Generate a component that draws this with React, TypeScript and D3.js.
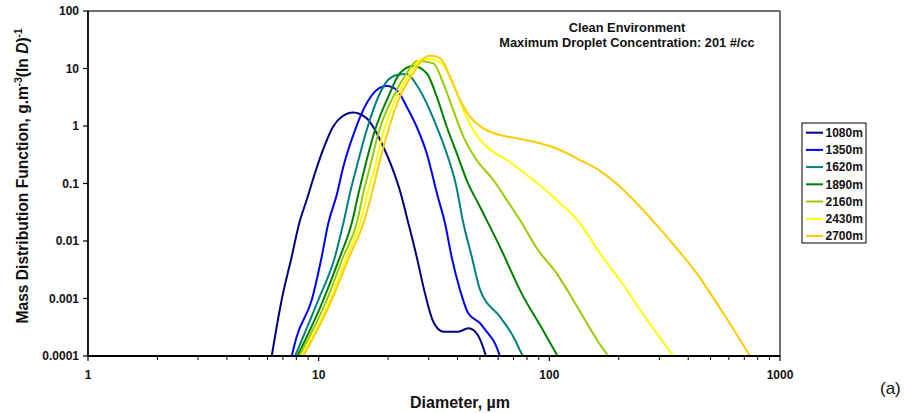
import React from "react";
import * as d3 from "d3";

// tick labels
const yTicks = [0.0001, 0.001, 0.01, 0.1, 1, 10, 100];
const yTickLabels = ["0.0001", "0.001", "0.01", "0.1", "1", "10", "100"];
const xTicks = [1, 10, 100, 1000];
const xTickLabels = ["1", "10", "100", "1000"];

// altitudes (series names) and colours
const altitudes = ["1080m", "1350m", "1620m", "1890m", "2160m", "2430m", "2700m"];
const colors = ["#000080", "#0000FF", "#008080", "#008000", "#99CC00", "#FFFF00", "#FFCC00"];

// diameter (um) / mass distribution values
const diam1080 = [6.26, 6.91, 7.64, 8.24, 8.87, 9.64, 10.44, 11.54, 12.59, 14.13, 16.15, 17.55, 19.06, 20.74, 22.9, 24.08, 26.6, 28.9, 31.4, 34.7, 40.3, 44.5, 48.4, 50.9, 53.1];
const mass1080 = [0.0001, 0.00094, 0.00533, 0.0206, 0.0516, 0.152, 0.383, 0.97, 1.45, 1.72, 1.36, 0.85, 0.436, 0.196, 0.0589, 0.0265, 0.00533, 0.00123, 0.000395, 0.000265, 0.000265, 0.000303, 0.000248, 0.000166, 0.0001];

const diam1350 = [7.64, 8.03, 9.33, 10.31, 11.01, 11.97, 12.79, 14.38, 16.15, 17.85, 19.72, 21.8, 24.08, 26.6, 29.4, 32.7, 35.3, 37.7, 41.0, 44.5, 50.1, 53.5, 58.1, 61.1];
const mass1350 = [0.0001, 0.000217, 0.00094, 0.00533, 0.0203, 0.063, 0.196, 0.85, 2.48, 4.23, 4.96, 4.23, 2.17, 0.97, 0.335, 0.063, 0.0203, 0.00533, 0.00141, 0.000553, 0.000371, 0.000265, 0.000166, 0.0001];

const diam1620 = [7.9, 9.96, 11.77, 12.79, 13.77, 14.62, 16.15, 18.14, 19.98, 21.86, 24.08, 26.6, 29.4, 32.5, 35.9, 39.4, 42.4, 46.1, 50.1, 61.1, 69.8, 76.6];
const mass1620 = [0.0001, 0.00094, 0.00533, 0.0203, 0.0771, 0.196, 0.85, 3.23, 6.31, 7.7, 8.0, 5.17, 2.48, 0.97, 0.335, 0.094, 0.0203, 0.00533, 0.00141, 0.000482, 0.000217, 0.0001];

const diam1890 = [8.09, 10.47, 12.38, 13.91, 15.0, 15.88, 17.55, 20.04, 22.5, 25.7, 29.4, 32.5, 35.9, 39.7, 43.8, 50.1, 61.1, 76.9, 91.1, 108.6];
const mass1890 = [0.0001, 0.00094, 0.00533, 0.0203, 0.0771, 0.196, 0.85, 3.23, 8.26, 11.0, 8.26, 3.23, 0.97, 0.335, 0.115, 0.039, 0.00787, 0.0011, 0.000346, 0.0001];

const diam2160 = [8.24, 10.83, 12.79, 14.62, 15.72, 16.69, 18.32, 21.06, 24.08, 26.7, 31.4, 34.7, 38.3, 42.4, 48.4, 57.2, 65.4, 74.6, 89.3, 107.6, 125.4, 142.8, 160.9, 180.2];
const mass2160 = [0.0001, 0.00094, 0.00533, 0.0203, 0.0771, 0.196, 0.85, 3.23, 8.26, 13.5, 12.3, 5.53, 1.9, 0.652, 0.256, 0.115, 0.0516, 0.0232, 0.00697, 0.00274, 0.00102, 0.000423, 0.00019, 0.0001];

const diam2430 = [8.44, 11.2, 13.23, 15.11, 16.41, 17.55, 19.19, 21.8, 24.9, 28.4, 31.9, 34.7, 38.3, 42.4, 46.8, 53.5, 65.4, 85.2, 107.6, 135.8, 165.8, 209.3, 259.8, 344.6];
const mass2430 = [0.0001, 0.00094, 0.00533, 0.0203, 0.0771, 0.196, 0.85, 3.23, 8.26, 15.0, 14.1, 11.5, 5.53, 1.9, 0.85, 0.436, 0.256, 0.115, 0.0516, 0.0203, 0.00611, 0.00172, 0.000482, 0.0001];

const diam2700 = [8.58, 11.39, 13.58, 15.62, 17.15, 18.14, 20.04, 22.5, 25.7, 28.1, 30.4, 33.6, 37.1, 41.0, 45.3, 51.7, 61.1, 72.2, 91.1, 111.2, 135.8, 160.9, 202.4, 247.2, 322.8, 435.5, 567.7, 741.3];
const mass2700 = [0.0001, 0.00094, 0.00533, 0.0203, 0.0771, 0.196, 0.85, 3.23, 8.26, 14.1, 16.7, 15.2, 7.2, 2.83, 1.45, 0.912, 0.696, 0.611, 0.5, 0.383, 0.256, 0.179, 0.0879, 0.0395, 0.0119, 0.00274, 0.000553, 0.0001];

const diams = [diam1080, diam1350, diam1620, diam1890, diam2160, diam2430, diam2700];
const masses = [mass1080, mass1350, mass1620, mass1890, mass2160, mass2430, mass2700];

const W = 904;
const H = 413;
const plot = { left: 88, right: 780, top: 11, bottom: 356 };
const font = "'Liberation Sans', Arial, sans-serif";

const App = () => {
    const x = d3.scaleLog().domain([1, 1000]).range([plot.left, plot.right]);
    const y = d3.scaleLog().domain([0.0001, 100]).range([plot.bottom, plot.top]);

    const myLine = d3
        .line<[number, number]>()
        .x((d) => x(d[0]))
        .y((d) => y(d[1]))
        .curve(d3.curveMonotoneX);

    // minor ticks 2..9 per decade
    const minor: number[] = [];
    for (let k = 0; k < 3; k++) {
        for (let m = 2; m <= 9; m++) minor.push(m * Math.pow(10, k));
    }

    const legendX = 802;
    const legendY = 123;
    const rowH = 17.2;

    return (
        <div style={{ position: "absolute", left: 0, top: 0 }}>
            <svg width={W} height={H} style={{ display: "block", fontFamily: font }}>
                <rect x={0} y={0} width={W} height={H} fill="#fff" />
                <defs>
                    <clipPath id="plotclip">
                        <rect x={plot.left} y={plot.top - 2} width={plot.right - plot.left} height={plot.bottom - plot.top + 2} />
                    </clipPath>
                </defs>

                {/* frame: top & right */}
                <line x1={plot.left} x2={plot.right} y1={plot.top} y2={plot.top} stroke="#404040" strokeWidth={1.5} />
                <line x1={plot.right} x2={plot.right} y1={plot.top} y2={plot.bottom} stroke="#404040" strokeWidth={1.5} />

                {/* series */}
                <g clipPath="url(#plotclip)">
                    {altitudes.map((a, i) => {
                        const pts = diams[i].map((d, j) => [d, masses[i][j]] as [number, number]);
                        return <path key={a} d={myLine(pts) || ""} fill="none" stroke={colors[i]} strokeWidth={2} strokeLinejoin="round" />;
                    })}
                </g>

                {/* y axis */}
                <line x1={plot.left} x2={plot.left} y1={plot.top} y2={plot.bottom} stroke="#000" strokeWidth={1.8} />
                {yTicks.map((t, i) => (
                    <g key={"y" + t}>
                        <line x1={plot.left - 5} x2={plot.left} y1={y(t)} y2={y(t)} stroke="#000" strokeWidth={1.2} />
                        <text x={79} y={y(t)} dy="0.36em" textAnchor="end" fontSize={12} fontWeight="bold" fill="#111">
                            {yTickLabels[i]}
                        </text>
                    </g>
                ))}

                {/* x axis */}
                <line x1={plot.left} x2={plot.right} y1={plot.bottom} y2={plot.bottom} stroke="#000" strokeWidth={1.8} />
                {minor.map((t) => (
                    <line key={"m" + t} x1={x(t)} x2={x(t)} y1={plot.bottom} y2={plot.bottom + 4} stroke="#000" strokeWidth={1} />
                ))}
                {xTicks.map((t, i) => (
                    <g key={"x" + t}>
                        <line x1={x(t)} x2={x(t)} y1={plot.bottom} y2={plot.bottom + 5} stroke="#000" strokeWidth={1.2} />
                        <text x={x(t)} y={379} textAnchor="middle" fontSize={12} fontWeight="bold" fill="#111">
                            {xTickLabels[i]}
                        </text>
                    </g>
                ))}

                {/* axis titles */}
                <text x={460} y={408} textAnchor="middle" fontSize={16} fontWeight="bold" fill="#111">
                    Diameter, µm
                </text>
                <text transform="translate(28,176) rotate(-90)" textAnchor="middle" fontSize={15.6} fontWeight="bold" fill="#111">
                    Mass Distribution Function, g.m
                    <tspan dy={-6} fontSize={10}>-3</tspan>
                    <tspan dy={6}>(ln </tspan>
                    <tspan fontStyle="italic">D</tspan>
                    <tspan>)</tspan>
                    <tspan dy={-6} fontSize={10}>-1</tspan>
                </text>

                {/* annotation */}
                <text x={627} y={31.5} textAnchor="middle" fontSize={12.8} fontWeight="bold" fill="#111">
                    Clean Environment
                </text>
                <text x={627} y={46.5} textAnchor="middle" fontSize={12.8} fontWeight="bold" fill="#111">
                    Maximum Droplet Concentration: 201 #/cc
                </text>
                <text x={880} y={394} fontSize={17} fill="#111">
                    (a)
                </text>

                {/* legend */}
                <rect x={legendX} y={legendY} width={64} height={120} fill="#fff" stroke="#000" strokeWidth={1} />
                {altitudes.map((a, i) => {
                    const cy = legendY + 9.7 + i * rowH;
                    return (
                        <g key={"lg" + a}>
                            <line x1={806} x2={823} y1={cy} y2={cy} stroke={colors[i]} strokeWidth={2} />
                            <text x={825.5} y={cy} dy="0.36em" fontSize={12} fontWeight="bold" fill="#111">
                                {a}
                            </text>
                        </g>
                    );
                })}
            </svg>
        </div>
    );
};

export default App;
